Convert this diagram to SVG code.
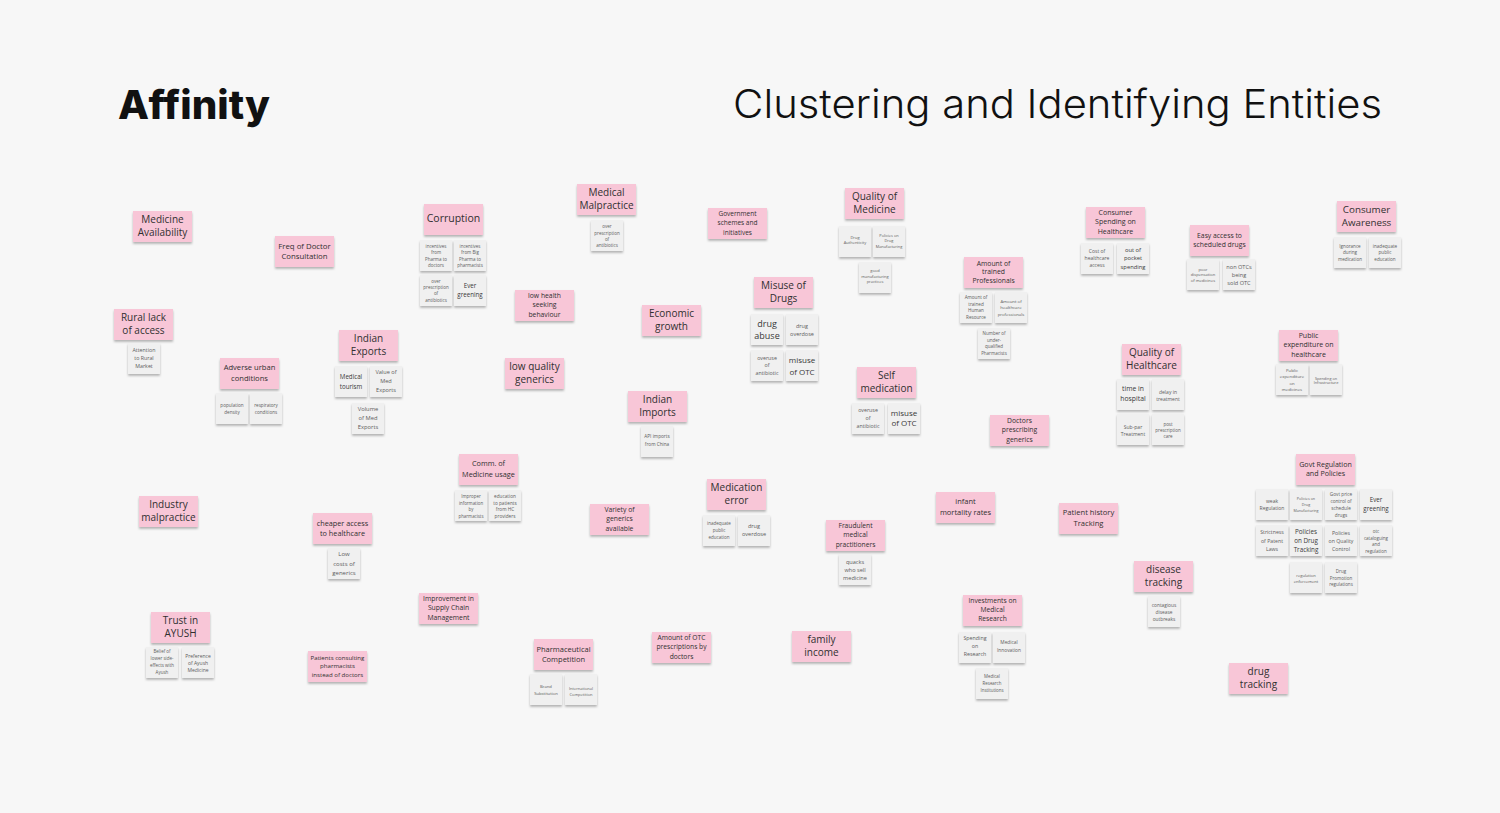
<svg xmlns="http://www.w3.org/2000/svg" width="1500" height="813" viewBox="0 0 1500 813">
<defs>
<filter id="sh" x="-20%" y="-20%" width="140%" height="160%"><feDropShadow dx="0" dy="1.8" stdDeviation="1.1" flood-color="#000" flood-opacity="0.28"/></filter>
<style>
.p{fill:#f8c6d7;filter:url(#sh)}
.g{fill:#f0f0f0;filter:url(#sh)}
text{font-family:"Open Sans","Liberation Sans",sans-serif;text-anchor:middle}
.tp{fill:#303030}
.tg{fill:#5c5c5c}
.tgd{fill:#383838}
.h1{font-family:Inter,"Liberation Sans",sans-serif;font-size:40px;fill:#111;text-anchor:start}
</style>
</defs>
<rect width="1500" height="813" fill="#f7f7f7"/>
<g id="titles">
<text class="h1" x="118" y="119" font-weight="800" textLength="152" lengthAdjust="spacingAndGlyphs">Affinity</text>
<text class="h1" x="733" y="118" font-weight="300" textLength="649" lengthAdjust="spacingAndGlyphs">Clustering and Identifying Entities</text>
</g>
<g id="connectors"/>

<g id="medicine-availability"><rect class="p" x="133" y="211" width="59" height="31"/><text class="tp" font-size="10" y="222.75"><tspan x="162.5">Medicine</tspan><tspan x="162.5" dy="13.5">Availability</tspan></text></g>

<g id="freq-doctor"><rect class="p" x="275" y="236" width="59" height="31"/><text class="tp" font-size="7.8" y="248.5"><tspan x="304.5">Freq of Doctor</tspan><tspan x="304.5" dy="10.4">Consultation</tspan></text></g>

<g id="rural-lack"><rect class="p" x="114" y="309" width="59" height="31"/><text class="tp" font-size="10" y="320.75"><tspan x="143.5">Rural lack</tspan><tspan x="143.5" dy="13.5">of access</tspan></text></g>
<g id="rural-1"><rect class="g" x="128" y="343" width="32" height="31"/><text class="tg" font-size="5.3" y="351.5"><tspan x="144">Attention</tspan><tspan x="144" dy="8">to Rural</tspan><tspan x="144" dy="8">Market</tspan></text></g>

<g id="adverse-urban"><rect class="p" x="220" y="358" width="59" height="31"/><text class="tp" font-size="7.6" y="370.4"><tspan x="249.5">Adverse urban</tspan><tspan x="249.5" dy="10.5">conditions</tspan></text></g>
<g id="adverse-1"><rect class="g" x="216" y="393" width="32" height="31"/><text class="tg" font-size="4.6" y="407"><tspan x="232">population</tspan><tspan x="232" dy="6.7">density</tspan></text></g>
<g id="adverse-2"><rect class="g" x="250" y="393" width="32" height="31"/><text class="tg" font-size="4.6" y="407"><tspan x="266">respiratory</tspan><tspan x="266" dy="6.7">conditions</tspan></text></g>

<g id="indian-exports"><rect class="p" x="339" y="330" width="59" height="31"/><text class="tp" font-size="10" y="341.75"><tspan x="368.5">Indian</tspan><tspan x="368.5" dy="13.5">Exports</tspan></text></g>
<g id="exports-1"><rect class="g" x="335" y="366" width="32" height="31"/><text class="tgd" font-size="6.2" y="378.6"><tspan x="351">Medical</tspan><tspan x="351" dy="10">tourism</tspan></text></g>
<g id="exports-2"><rect class="g" x="370" y="366" width="32" height="31"/><text class="tg" font-size="5.6" y="374.4"><tspan x="386">Value of</tspan><tspan x="386" dy="9">Med</tspan><tspan x="386" dy="9">Exports</tspan></text></g>
<g id="exports-3"><rect class="g" x="352" y="403" width="32" height="31"/><text class="tg" font-size="5.8" y="411"><tspan x="368">Volume</tspan><tspan x="368" dy="8.8">of Med</tspan><tspan x="368" dy="8.8">Exports</tspan></text></g>

<g id="corruption"><rect class="p" x="424" y="204" width="59" height="31"/><text class="tp" font-size="10.5" x="453.5" y="221.5">Corruption</text></g>
<g id="corruption-1"><rect class="g" x="420" y="240" width="32" height="31"/><text class="tg" font-size="4.5" y="247.5"><tspan x="436">incentives</tspan><tspan x="436" dy="6.6">from</tspan><tspan x="436" dy="6.6">Pharma to</tspan><tspan x="436" dy="6.6">doctors</tspan></text></g>
<g id="corruption-2"><rect class="g" x="454" y="240" width="32" height="31"/><text class="tg" font-size="4.5" y="247.5"><tspan x="470">incentives</tspan><tspan x="470" dy="6.6">from Big</tspan><tspan x="470" dy="6.6">Pharma to</tspan><tspan x="470" dy="6.6">pharmacists</tspan></text></g>
<g id="corruption-3"><rect class="g" x="420" y="275" width="32" height="31"/><text class="tg" font-size="4.5" y="282.6"><tspan x="436">over</tspan><tspan x="436" dy="6.4">prescription</tspan><tspan x="436" dy="6.4">of</tspan><tspan x="436" dy="6.4">antibiotics</tspan></text></g>
<g id="corruption-4"><rect class="g" x="454" y="275" width="32" height="31"/><text class="tgd" font-size="6.2" y="288.2"><tspan x="470">Ever</tspan><tspan x="470" dy="9">greening</tspan></text></g>

<g id="medical-malpractice"><rect class="p" x="577" y="184" width="59" height="31"/><text class="tp" font-size="10" y="195.75"><tspan x="606.5">Medical</tspan><tspan x="606.5" dy="13.5">Malpractice</tspan></text></g>
<g id="malpractice-1"><rect class="g" x="591" y="220" width="32" height="31"/><text class="tg" font-size="4.5" y="228.3"><tspan x="607">over</tspan><tspan x="607" dy="6.3">prescription</tspan><tspan x="607" dy="6.3">of</tspan><tspan x="607" dy="6.3">antibiotics</tspan></text></g>

<g id="low-health-seeking"><rect class="p" x="515" y="290" width="59" height="31"/><text class="tp" font-size="6.8" y="298.2"><tspan x="544.5">low health</tspan><tspan x="544.5" dy="9.2">seeking</tspan><tspan x="544.5" dy="9.2">behaviour</tspan></text></g>

<g id="economic-growth"><rect class="p" x="642" y="305" width="59" height="31"/><text class="tp" font-size="10" y="316.75"><tspan x="671.5">Economic</tspan><tspan x="671.5" dy="13.5">growth</tspan></text></g>

<g id="low-quality-generics"><rect class="p" x="505" y="358" width="59" height="31"/><text class="tp" font-size="10" y="369.75"><tspan x="534.5">low quality</tspan><tspan x="534.5" dy="13.5">generics</tspan></text></g>

<g id="indian-imports"><rect class="p" x="628" y="391" width="59" height="31"/><text class="tp" font-size="10" y="402.75"><tspan x="657.5">Indian</tspan><tspan x="657.5" dy="13.5">Imports</tspan></text></g>
<g id="imports-1"><rect class="g" x="641" y="426" width="32" height="31"/><text class="tg" font-size="4.7" y="438.4"><tspan x="657">API imports</tspan><tspan x="657" dy="7.3">from China</tspan></text></g>

<g id="govt-schemes"><rect class="p" x="708" y="208" width="59" height="31"/><text class="tp" font-size="6.5" y="216.1"><tspan x="737.5">Government</tspan><tspan x="737.5" dy="9.2">schemes and</tspan><tspan x="737.5" dy="9.2">initiatives</tspan></text></g>

<g id="quality-medicine"><rect class="p" x="845" y="188" width="59" height="31"/><text class="tp" font-size="10" y="199.75"><tspan x="874.5">Quality of</tspan><tspan x="874.5" dy="13.5">Medicine</tspan></text></g>
<g id="qmed-1"><rect class="g" x="839" y="226" width="32" height="31"/><text class="tg" font-size="4" y="239"><tspan x="855">Drug</tspan><tspan x="855" dy="5.2">Authenticity</tspan></text></g>
<g id="qmed-2"><rect class="g" x="873" y="226" width="32" height="31"/><text class="tg" font-size="3.9" y="237"><tspan x="889">Policies on</tspan><tspan x="889" dy="5.3">Drug</tspan><tspan x="889" dy="5.3">Manufacturing</tspan></text></g>
<g id="qmed-3"><rect class="g" x="859" y="262" width="32" height="31"/><text class="tg" font-size="4" y="272"><tspan x="875">good</tspan><tspan x="875" dy="5.5">manufacturing</tspan><tspan x="875" dy="5.5">practices</tspan></text></g>

<g id="misuse-drugs"><rect class="p" x="754" y="277" width="59" height="31"/><text class="tp" font-size="10" y="288.75"><tspan x="783.5">Misuse of</tspan><tspan x="783.5" dy="13.5">Drugs</tspan></text></g>
<g id="misuse-1"><rect class="g" x="751" y="314" width="32" height="31"/><text class="tgd" font-size="9" y="326.5"><tspan x="767">drug</tspan><tspan x="767" dy="12">abuse</tspan></text></g>
<g id="misuse-2"><rect class="g" x="786" y="314" width="32" height="31"/><text class="tg" font-size="5.5" y="327.6"><tspan x="802">drug</tspan><tspan x="802" dy="8.3">overdose</tspan></text></g>
<g id="misuse-3"><rect class="g" x="751" y="350" width="32" height="31"/><text class="tg" font-size="5.3" y="359.5"><tspan x="767">overuse</tspan><tspan x="767" dy="7.5">of</tspan><tspan x="767" dy="7.5">antibiotic</tspan></text></g>
<g id="misuse-4"><rect class="g" x="786" y="350" width="32" height="31"/><text class="tgd" font-size="8" y="362.8"><tspan x="802">misuse</tspan><tspan x="802" dy="11.7">of OTC</tspan></text></g>

<g id="trained-professionals"><rect class="p" x="964" y="257" width="59" height="31"/><text class="tp" font-size="6.8" y="265.6"><tspan x="993.5">Amount of</tspan><tspan x="993.5" dy="8.8">trained</tspan><tspan x="993.5" dy="8.8">Professionals</tspan></text></g>
<g id="trained-1"><rect class="g" x="960" y="292" width="32" height="31"/><text class="tg" font-size="4.6" y="299"><tspan x="976">Amount of</tspan><tspan x="976" dy="6.7">trained</tspan><tspan x="976" dy="6.7">Human</tspan><tspan x="976" dy="6.7">Resource</tspan></text></g>
<g id="trained-2"><rect class="g" x="995" y="292" width="32" height="31"/><text class="tg" font-size="4.3" y="303.2"><tspan x="1011">Amount of</tspan><tspan x="1011" dy="6.2">healthcare</tspan><tspan x="1011" dy="6.2">professionals</tspan></text></g>
<g id="trained-3"><rect class="g" x="978" y="328" width="32" height="31"/><text class="tg" font-size="4.5" y="335"><tspan x="994">Number of</tspan><tspan x="994" dy="6.6">under-</tspan><tspan x="994" dy="6.6">qualified</tspan><tspan x="994" dy="6.6">Pharmacists</tspan></text></g>

<g id="self-medication"><rect class="p" x="857" y="367" width="59" height="31"/><text class="tp" font-size="10" y="378.75"><tspan x="886.5">Self</tspan><tspan x="886.5" dy="13.5">medication</tspan></text></g>
<g id="self-1"><rect class="g" x="852" y="403" width="32" height="31"/><text class="tg" font-size="5.3" y="411.8"><tspan x="868">overuse</tspan><tspan x="868" dy="8.3">of</tspan><tspan x="868" dy="8.3">antibiotic</tspan></text></g>
<g id="self-2"><rect class="g" x="888" y="403" width="32" height="31"/><text class="tgd" font-size="8" y="415.5"><tspan x="904">misuse</tspan><tspan x="904" dy="10.8">of OTC</tspan></text></g>

<g id="doctors-generics"><rect class="p" x="990" y="415" width="59" height="31"/><text class="tp" font-size="6.8" y="423.2"><tspan x="1019.5">Doctors</tspan><tspan x="1019.5" dy="9.2">prescribing</tspan><tspan x="1019.5" dy="9.2">generics</tspan></text></g>

<g id="consumer-spending"><rect class="p" x="1086" y="207" width="59" height="31"/><text class="tp" font-size="7" y="215.25"><tspan x="1115.5">Consumer</tspan><tspan x="1115.5" dy="9.2">Spending on</tspan><tspan x="1115.5" dy="9.2">Healthcare</tspan></text></g>
<g id="spending-1"><rect class="g" x="1081" y="243" width="32" height="31"/><text class="tg" font-size="5" y="252.7"><tspan x="1097">Cost of</tspan><tspan x="1097" dy="7">healthcare</tspan><tspan x="1097" dy="7">access</tspan></text></g>
<g id="spending-2"><rect class="g" x="1117" y="243" width="32" height="31"/><text class="tgd" font-size="5.8" y="252"><tspan x="1133">out of</tspan><tspan x="1133" dy="8.3">pocket</tspan><tspan x="1133" dy="8.3">spending</tspan></text></g>

<g id="easy-access"><rect class="p" x="1190" y="225" width="59" height="31"/><text class="tp" font-size="6.8" y="237.7"><tspan x="1219.5">Easy access to</tspan><tspan x="1219.5" dy="9.4">scheduled drugs</tspan></text></g>
<g id="easy-1"><rect class="g" x="1187" y="259" width="32" height="31"/><text class="tg" font-size="4.1" y="270.5"><tspan x="1203">poor</tspan><tspan x="1203" dy="5.9">dispensation</tspan><tspan x="1203" dy="5.9">of medicines</tspan></text></g>
<g id="easy-2"><rect class="g" x="1223" y="259" width="32" height="31"/><text class="tg" font-size="5.6" y="268.7"><tspan x="1239">non OTCs</tspan><tspan x="1239" dy="8.3">being</tspan><tspan x="1239" dy="8.3">sold OTC</tspan></text></g>

<g id="consumer-awareness"><rect class="p" x="1337" y="201" width="59" height="31"/><text class="tp" font-size="9.8" y="212.7"><tspan x="1366.5">Consumer</tspan><tspan x="1366.5" dy="13.5">Awareness</tspan></text></g>
<g id="awareness-1"><rect class="g" x="1334" y="237" width="32" height="31"/><text class="tg" font-size="4.6" y="247.6"><tspan x="1350">Ignorance</tspan><tspan x="1350" dy="6.7">during</tspan><tspan x="1350" dy="6.7">medication</tspan></text></g>
<g id="awareness-2"><rect class="g" x="1369" y="237" width="32" height="31"/><text class="tg" font-size="4.6" y="247.6"><tspan x="1385">inadequate</tspan><tspan x="1385" dy="6.7">public</tspan><tspan x="1385" dy="6.7">education</tspan></text></g>

<g id="public-expenditure"><rect class="p" x="1279" y="330" width="59" height="31"/><text class="tp" font-size="7" y="338.25"><tspan x="1308.5">Public</tspan><tspan x="1308.5" dy="9.2">expenditure on</tspan><tspan x="1308.5" dy="9.2">healthcare</tspan></text></g>
<g id="expenditure-1"><rect class="g" x="1276" y="364" width="32" height="31"/><text class="tg" font-size="4.3" y="371.6"><tspan x="1292">Public</tspan><tspan x="1292" dy="6.5">expenditure</tspan><tspan x="1292" dy="6.5">on</tspan><tspan x="1292" dy="6.5">medicines</tspan></text></g>
<g id="expenditure-2"><rect class="g" x="1310" y="364" width="32" height="31"/><text class="tg" font-size="3.8" y="379.6"><tspan x="1326">Spending on</tspan><tspan x="1326" dy="4.8">Infrastructure</tspan></text></g>

<g id="quality-healthcare"><rect class="p" x="1122" y="344" width="59" height="31"/><text class="tp" font-size="10" y="355.75"><tspan x="1151.5">Quality of</tspan><tspan x="1151.5" dy="13.5">Healthcare</tspan></text></g>
<g id="qhc-1"><rect class="g" x="1117" y="379" width="32" height="31"/><text class="tgd" font-size="6.8" y="391.4"><tspan x="1133">time in</tspan><tspan x="1133" dy="10">hospital</tspan></text></g>
<g id="qhc-2"><rect class="g" x="1152" y="379" width="32" height="31"/><text class="tg" font-size="5" y="393.5"><tspan x="1168">delay in</tspan><tspan x="1168" dy="7.6">treatment</tspan></text></g>
<g id="qhc-3"><rect class="g" x="1117" y="414" width="32" height="31"/><text class="tg" font-size="5" y="428.5"><tspan x="1133">Sub-par</tspan><tspan x="1133" dy="7.6">Treatment</tspan></text></g>
<g id="qhc-4"><rect class="g" x="1152" y="414" width="32" height="31"/><text class="tg" font-size="4.5" y="426"><tspan x="1168">post</tspan><tspan x="1168" dy="6.2">prescription</tspan><tspan x="1168" dy="6.2">care</tspan></text></g>

<g id="industry-malpractice"><rect class="p" x="139" y="496" width="59" height="31"/><text class="tp" font-size="10" y="507.75"><tspan x="168.5">Industry</tspan><tspan x="168.5" dy="13.5">malpractice</tspan></text></g>

<g id="cheaper-access"><rect class="p" x="313" y="513" width="59" height="31"/><text class="tp" font-size="7.3" y="525.6"><tspan x="342.5">cheaper access</tspan><tspan x="342.5" dy="10">to healthcare</tspan></text></g>
<g id="cheaper-1"><rect class="g" x="328" y="548" width="32" height="31"/><text class="tg" font-size="6" y="556.2"><tspan x="344">Low</tspan><tspan x="344" dy="9.3">costs of</tspan><tspan x="344" dy="9.3">generics</tspan></text></g>

<g id="trust-ayush"><rect class="p" x="151" y="612" width="59" height="31"/><text class="tp" font-size="10" y="623.75"><tspan x="180.5">Trust in</tspan><tspan x="180.5" dy="13.5">AYUSH</tspan></text></g>
<g id="ayush-1"><rect class="g" x="146" y="647" width="32" height="31"/><text class="tg" font-size="4.5" y="653.3"><tspan x="162">Belief of</tspan><tspan x="162" dy="7">lower side-</tspan><tspan x="162" dy="7">effects with</tspan><tspan x="162" dy="7">Ayush</tspan></text></g>
<g id="ayush-2"><rect class="g" x="182" y="647" width="32" height="31"/><text class="tg" font-size="5" y="657.5"><tspan x="198">Preference</tspan><tspan x="198" dy="7">of Ayush</tspan><tspan x="198" dy="7">Medicine</tspan></text></g>

<g id="patients-consulting"><rect class="p" x="308" y="651" width="59" height="31"/><text class="tp" font-size="6.1" y="659.9"><tspan x="337.5">Patients consulting</tspan><tspan x="337.5" dy="8.3">pharmacists</tspan><tspan x="337.5" dy="8.3">instead of doctors</tspan></text></g>

<g id="comm-medicine"><rect class="p" x="459" y="454" width="59" height="31"/><text class="tp" font-size="7.3" y="466.45"><tspan x="488.5">Comm. of</tspan><tspan x="488.5" dy="10.3">Medicine usage</tspan></text></g>
<g id="comm-1"><rect class="g" x="455" y="490" width="32" height="31"/><text class="tg" font-size="4.4" y="498.3"><tspan x="471">Improper</tspan><tspan x="471" dy="6.4">information</tspan><tspan x="471" dy="6.4">by</tspan><tspan x="471" dy="6.4">pharmacists</tspan></text></g>
<g id="comm-2"><rect class="g" x="489" y="490" width="32" height="31"/><text class="tg" font-size="4.7" y="497.7"><tspan x="505">education</tspan><tspan x="505" dy="6.8">to patients</tspan><tspan x="505" dy="6.8">from HC</tspan><tspan x="505" dy="6.8">providers</tspan></text></g>

<g id="variety-generics"><rect class="p" x="590" y="504" width="59" height="31"/><text class="tp" font-size="6.8" y="512.2"><tspan x="619.5">Variety of</tspan><tspan x="619.5" dy="9.2">generics</tspan><tspan x="619.5" dy="9.2">available</tspan></text></g>

<g id="supply-chain"><rect class="p" x="419" y="593" width="59" height="31"/><text class="tp" font-size="6.8" y="601"><tspan x="448.5">Improvement in</tspan><tspan x="448.5" dy="9.4">Supply Chain</tspan><tspan x="448.5" dy="9.4">Management</tspan></text></g>

<g id="pharma-competition"><rect class="p" x="534" y="639" width="59" height="31"/><text class="tp" font-size="7.5" y="651.66"><tspan x="563.5">Pharmaceutical</tspan><tspan x="563.5" dy="10">Competition</tspan></text></g>
<g id="competition-1"><rect class="g" x="530" y="674" width="32" height="31"/><text class="tg" font-size="4.2" y="688.2"><tspan x="546">Brand</tspan><tspan x="546" dy="6.5">Substitution</tspan></text></g>
<g id="competition-2"><rect class="g" x="565" y="674" width="32" height="31"/><text class="tg" font-size="4" y="689.8"><tspan x="581">International</tspan><tspan x="581" dy="5.8">Competition</tspan></text></g>

<g id="otc-prescriptions"><rect class="p" x="652" y="632" width="59" height="31"/><text class="tp" font-size="6.7" y="640.2"><tspan x="681.5">Amount of OTC</tspan><tspan x="681.5" dy="9.2">prescriptions by</tspan><tspan x="681.5" dy="9.2">doctors</tspan></text></g>

<g id="medication-error"><rect class="p" x="707" y="479" width="59" height="31"/><text class="tp" font-size="10" y="490.75"><tspan x="736.5">Medication</tspan><tspan x="736.5" dy="13.5">error</tspan></text></g>
<g id="error-1"><rect class="g" x="703" y="515" width="32" height="31"/><text class="tg" font-size="4.5" y="525"><tspan x="719">inadequate</tspan><tspan x="719" dy="7">public</tspan><tspan x="719" dy="7">education</tspan></text></g>
<g id="error-2"><rect class="g" x="738" y="515" width="32" height="31"/><text class="tg" font-size="5.6" y="528"><tspan x="754">drug</tspan><tspan x="754" dy="8.3">overdose</tspan></text></g>

<g id="fraudulent-practitioners"><rect class="p" x="826" y="520" width="59" height="31"/><text class="tp" font-size="6.7" y="528.15"><tspan x="855.5">Fraudulent</tspan><tspan x="855.5" dy="9.2">medical</tspan><tspan x="855.5" dy="9.2">practitioners</tspan></text></g>
<g id="fraudulent-1"><rect class="g" x="839" y="554" width="32" height="31"/><text class="tg" font-size="5.6" y="563.7"><tspan x="855">quacks</tspan><tspan x="855" dy="8.3">who sell</tspan><tspan x="855" dy="8.3">medicine</tspan></text></g>

<g id="infant-mortality"><rect class="p" x="936" y="492" width="59" height="31"/><text class="tp" font-size="7.5" y="504.2"><tspan x="965.5">infant</tspan><tspan x="965.5" dy="11">mortality rates</tspan></text></g>

<g id="investments-research"><rect class="p" x="963" y="595" width="59" height="31"/><text class="tp" font-size="6.7" y="603.35"><tspan x="992.5">Investments on</tspan><tspan x="992.5" dy="9">Medical</tspan><tspan x="992.5" dy="9">Research</tspan></text></g>
<g id="research-1"><rect class="g" x="959" y="632" width="32" height="31"/><text class="tg" font-size="5.3" y="640.2"><tspan x="975">Spending</tspan><tspan x="975" dy="8">on</tspan><tspan x="975" dy="8">Research</tspan></text></g>
<g id="research-2"><rect class="g" x="993" y="632" width="32" height="31"/><text class="tg" font-size="4.8" y="644.4"><tspan x="1009">Medical</tspan><tspan x="1009" dy="7.3">Innovation</tspan></text></g>
<g id="research-3"><rect class="g" x="976" y="668" width="32" height="31"/><text class="tg" font-size="4.4" y="678.3"><tspan x="992">Medical</tspan><tspan x="992" dy="6.9">Research</tspan><tspan x="992" dy="6.9">Institutions</tspan></text></g>

<g id="family-income"><rect class="p" x="792" y="631" width="59" height="31"/><text class="tp" font-size="10" y="642.75"><tspan x="821.5">family</tspan><tspan x="821.5" dy="13.5">income</tspan></text></g>

<g id="govt-regulation"><rect class="p" x="1296" y="454" width="59" height="31"/><text class="tp" font-size="7.1" y="466.7"><tspan x="1325.5">Govt Regulation</tspan><tspan x="1325.5" dy="9.7">and Policies</tspan></text></g>
<g id="reg-1"><rect class="g" x="1256" y="489" width="32" height="31"/><text class="tg" font-size="5" y="502.8"><tspan x="1272">weak</tspan><tspan x="1272" dy="7.3">Regulation</tspan></text></g>
<g id="reg-2"><rect class="g" x="1290" y="489" width="32" height="31"/><text class="tg" font-size="3.7" y="499.6"><tspan x="1306">Policies on</tspan><tspan x="1306" dy="6.2">Drug</tspan><tspan x="1306" dy="6.2">Manufacturing</tspan></text></g>
<g id="reg-3"><rect class="g" x="1325" y="489" width="32" height="31"/><text class="tg" font-size="4.7" y="496"><tspan x="1341">Govt price</tspan><tspan x="1341" dy="6.9">control of</tspan><tspan x="1341" dy="6.9">schedule</tspan><tspan x="1341" dy="6.9">drugs</tspan></text></g>
<g id="reg-4"><rect class="g" x="1360" y="489" width="32" height="31"/><text class="tgd" font-size="6.2" y="502.2"><tspan x="1376">Ever</tspan><tspan x="1376" dy="9">greening</tspan></text></g>
<g id="reg-5"><rect class="g" x="1256" y="525" width="32" height="31"/><text class="tg" font-size="5.2" y="534.2"><tspan x="1272">Strictness</tspan><tspan x="1272" dy="8.5">of Patent</tspan><tspan x="1272" dy="8.5">Laws</tspan></text></g>
<g id="reg-6"><rect class="g" x="1290" y="525" width="32" height="31"/><text class="tgd" font-size="6.3" y="533.9"><tspan x="1306">Policies</tspan><tspan x="1306" dy="9.2">on Drug</tspan><tspan x="1306" dy="9.2">Tracking</tspan></text></g>
<g id="reg-7"><rect class="g" x="1325" y="525" width="32" height="31"/><text class="tg" font-size="5.2" y="535.2"><tspan x="1341">Policies</tspan><tspan x="1341" dy="7.8">on Quality</tspan><tspan x="1341" dy="7.8">Control</tspan></text></g>
<g id="reg-8"><rect class="g" x="1360" y="525" width="32" height="31"/><text class="tg" font-size="4.5" y="532.6"><tspan x="1376">otc</tspan><tspan x="1376" dy="6.9">cataloguing</tspan><tspan x="1376" dy="6.9">and</tspan><tspan x="1376" dy="6.9">regulation</tspan></text></g>
<g id="reg-9"><rect class="g" x="1290" y="562" width="32" height="31"/><text class="tg" font-size="4.1" y="576.5"><tspan x="1306">regulation</tspan><tspan x="1306" dy="6">enforcement</tspan></text></g>
<g id="reg-10"><rect class="g" x="1325" y="562" width="32" height="31"/><text class="tg" font-size="4.5" y="572.6"><tspan x="1341">Drug</tspan><tspan x="1341" dy="6.9">Promotion</tspan><tspan x="1341" dy="6.9">regulations</tspan></text></g>

<g id="patient-history"><rect class="p" x="1059" y="503" width="59" height="31"/><text class="tp" font-size="7.6" y="515.35"><tspan x="1088.5">Patient history</tspan><tspan x="1088.5" dy="10.7">Tracking</tspan></text></g>

<g id="disease-tracking"><rect class="p" x="1134" y="561" width="59" height="31"/><text class="tp" font-size="10" y="572.75"><tspan x="1163.5">disease</tspan><tspan x="1163.5" dy="13.5">tracking</tspan></text></g>
<g id="disease-1"><rect class="g" x="1148" y="596" width="32" height="31"/><text class="tg" font-size="4.8" y="606.7"><tspan x="1164">contagious</tspan><tspan x="1164" dy="7">disease</tspan><tspan x="1164" dy="7">outbreaks</tspan></text></g>

<g id="drug-tracking"><rect class="p" x="1229" y="663" width="59" height="31"/><text class="tp" font-size="10" y="674.75"><tspan x="1258.5">drug</tspan><tspan x="1258.5" dy="13.5">tracking</tspan></text></g>
</svg>
